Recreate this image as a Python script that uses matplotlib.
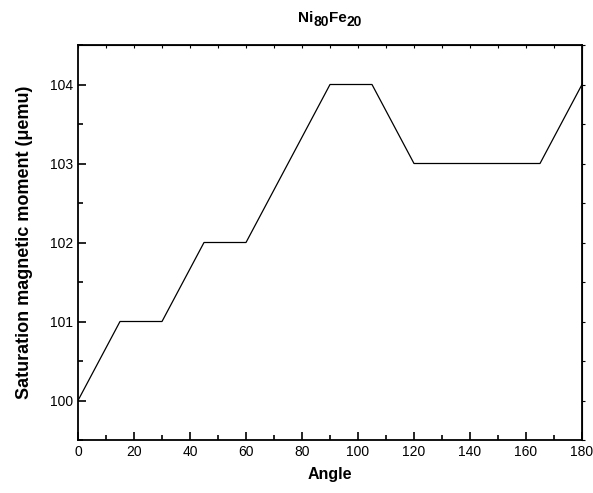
import matplotlib
matplotlib.use("Agg")
import matplotlib.pyplot as plt
from matplotlib.ticker import MultipleLocator, NullFormatter

plt.rcParams["font.family"] = ["Liberation Sans", "DejaVu Sans"]

angle = [0, 15, 30, 45, 60, 75, 90, 105, 120, 135, 150, 165, 180]
moment = [100, 101, 101, 102, 102, 103, 104, 104, 103, 103, 103, 103, 104]

W, H = 593, 493
fig = plt.figure(figsize=(W / 100, H / 100), dpi=100)
ax = fig.add_axes([78 / W, 1 - 440 / H, 504 / W, 395 / H])

ax.plot(angle, moment, color="black", linewidth=0.9)

ax.set_xlim(0, 180)
ax.set_ylim(99.5, 104.5)
ax.xaxis.set_major_locator(MultipleLocator(20))
ax.xaxis.set_minor_locator(MultipleLocator(10))
ax.yaxis.set_major_locator(MultipleLocator(1))
ax.yaxis.set_minor_locator(MultipleLocator(0.5))

ax.tick_params(which="both", direction="in", labelsize=10, width=1.2)
ax.tick_params(which="major", length=6)
ax.tick_params(which="minor", length=3.5)
for s in ax.spines.values():
    s.set_linewidth(1.3)

# small ticks on the top and right edges
top = ax.secondary_xaxis("top")
top.xaxis.set_major_locator(MultipleLocator(10))
top.xaxis.set_major_formatter(NullFormatter())
top.tick_params(direction="in", length=2, width=0.8)
right = ax.secondary_yaxis("right")
right.yaxis.set_major_locator(MultipleLocator(0.5))
right.yaxis.set_major_formatter(NullFormatter())
right.tick_params(direction="out", length=2, width=0.8)

ax.set_xlabel("Angle", fontsize=11.5, fontweight="bold", labelpad=6)
ax.set_ylabel("Saturation magnetic moment (\u03bcemu)", fontsize=13, fontweight="bold", labelpad=12)

# title Ni80Fe20 with large subscripts
parts = [("Ni", 11, 0), ("80", 10, -4), ("Fe", 11, 0), ("20", 10, -4)]
renderer = fig.canvas.get_renderer()
texts = []
for s, fs, dy in parts:
    t = fig.text(0, 0, s, fontsize=fs, fontweight="bold", va="baseline", ha="left")
    texts.append((t, dy))
widths = [t.get_window_extent(renderer).width for t, _ in texts]
x = (78 + 582) / 2 - sum(widths) / 2
base = H - 22
for (t, dy), w in zip(texts, widths):
    t.set_position((x / W, (base + dy) / H))
    x += w

fig.savefig("out.png", dpi=100)
